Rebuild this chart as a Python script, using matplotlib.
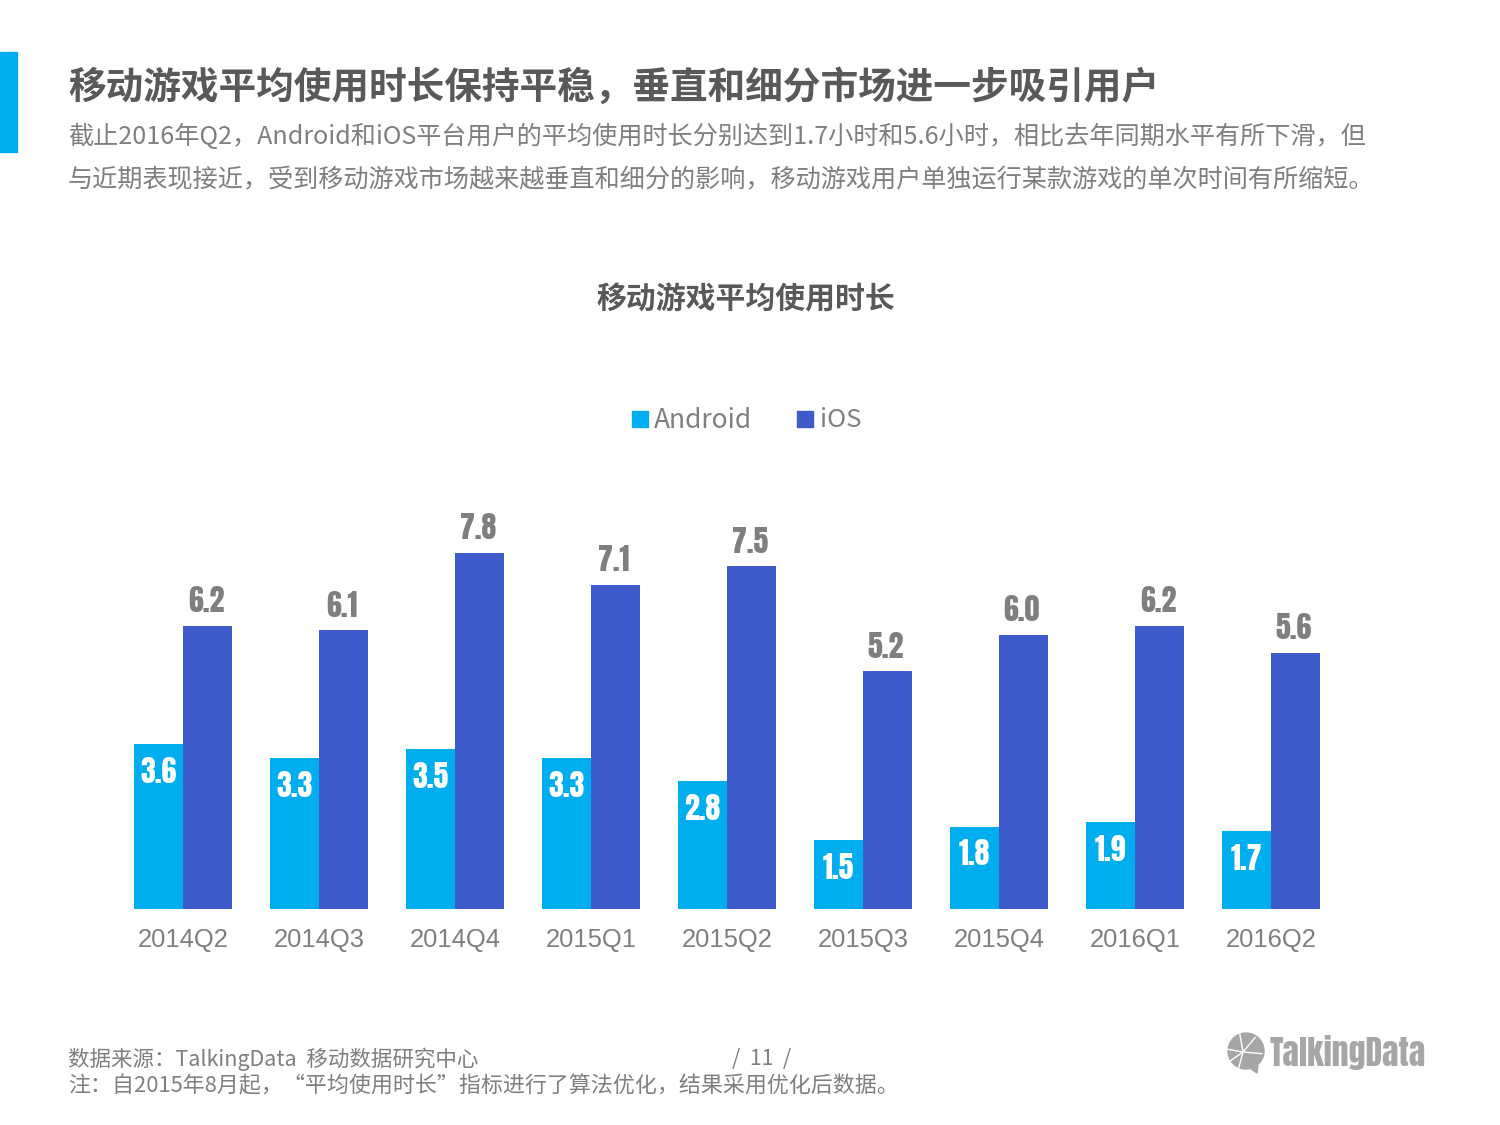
import matplotlib
matplotlib.use("Agg")
import matplotlib.pyplot as plt
from matplotlib.patches import Rectangle, Ellipse, Polygon
from matplotlib.lines import Line2D
import numpy as np

quarters = ["2014Q2", "2014Q3", "2014Q4", "2015Q1", "2015Q2", "2015Q3", "2015Q4", "2016Q1", "2016Q2"]
android = [3.6, 3.3, 3.5, 3.3, 2.8, 1.5, 1.8, 1.9, 1.7]
ios = [6.2, 6.1, 7.8, 7.1, 7.5, 5.2, 6.0, 6.2, 5.6]

title = "移动游戏平均使用时长保持平稳，垂直和细分市场进一步吸引用户"
subtitle1 = "截止2016年Q2，Android和iOS平台用户的平均使用时长分别达到1.7小时和5.6小时，相比去年同期水平有所下滑，但"
subtitle2 = "与近期表现接近，受到移动游戏市场越来越垂直和细分的影响，移动游戏用户单独运行某款游戏的单次时间有所缩短。"
chart_title = "移动游戏平均使用时长"
source = "数据来源：TalkingData  移动数据研究中心"
note = "注：自2015年8月起，“平均使用时长”指标进行了算法优化，结果采用优化后数据。"

W, H = 1500, 1125
cjk = ["Noto Sans CJK SC", "DejaVu Sans"]
narrow = ["Anton", "Liberation Sans", "DejaVu Sans"]
cyan = "#00AEEF"
blue = "#3E5ACB"
plt.rcParams["font.family"] = cjk


def fx(x):
    return x / W


def fy(y):
    return 1 - y / H


fig = plt.figure(figsize=(15, 11.25), dpi=100, facecolor="white")

# plot area, 9 groups 136 px apart, baseline at y=909
ax = fig.add_axes([fx(115), fy(909), 1224 / W, 411.3 / H])
x = np.arange(len(quarters))
w = 0.357
bars_a = ax.bar(x - w / 2, android, w, color=cyan)
bars_i = ax.bar(x + w / 2, ios, w, color=blue)
ax.set_xlim(-0.5, 8.5)
ax.set_ylim(0, 9)
ax.set_yticks([])
ax.set_xticks(x)
ax.set_xticklabels(quarters, family=["Liberation Sans"], fontsize=18.4, color="#7F7F7F")
ax.tick_params(axis="x", length=0, pad=14)
for s in ax.spines.values():
    s.set_visible(False)

for b, v in zip(bars_a, android):
    ax.annotate("%.1f" % v, (b.get_x() + b.get_width() / 2, v), xytext=(0, -9), textcoords="offset points",
                ha="center", va="top", color="white", fontsize=21.5, family=narrow)
for b, v in zip(bars_i, ios):
    ax.annotate("%.1f" % v, (b.get_x() + b.get_width() / 2, v), xytext=(-1, 7), textcoords="offset points",
                ha="center", va="bottom", color="#7F7F7F", fontsize=21.5, family=narrow)

# header
fig.add_artist(Rectangle((0, fy(152)), 17 / W, 100 / H, color=cyan, transform=fig.transFigure))
fig.text(fx(68), fy(87), title, fontsize=27.1, fontweight="bold", color="#595959", va="center")
fig.text(fx(68), fy(137), subtitle1, fontsize=18.1, color="#7F7F7F", va="center")
fig.text(fx(68), fy(180), subtitle2, fontsize=18.1, color="#7F7F7F", va="center")
fig.text(fx(746), fy(299), chart_title, fontsize=21.5, fontweight="bold", color="#595959", ha="center", va="center")

# legend
fig.add_artist(Rectangle((fx(632), fy(427)), 16 / W, 16 / H, color=cyan, transform=fig.transFigure))
fig.text(fx(654), fy(420), "Android", fontsize=19, color="#7F7F7F", va="center")
fig.add_artist(Rectangle((fx(797), fy(427)), 16 / W, 16 / H, color=blue, transform=fig.transFigure))
fig.text(fx(820), fy(420), "iOS", fontsize=18.5, color="#7F7F7F", va="center")

# footer
fig.text(fx(68), fy(1059), source, fontsize=15.5, color="#7F7F7F", va="center")
fig.text(fx(68), fy(1086), note, fontsize=15.8, color="#7F7F7F", va="center")
fig.text(fx(762), fy(1059), "/  11  /", fontsize=15.3, color="#7F7F7F", ha="center", va="center")

# logo
logo = "#A6A6A8"
cx, cy, r = 1246, 1051, 18
fig.add_artist(Ellipse((fx(cx), fy(cy)), 2 * r / W, 2 * r / H, color=logo, transform=fig.transFigure))
fig.add_artist(Polygon([(fx(1247), fy(1066)), (fx(1258), fy(1066)), (fx(1257), fy(1073))], color=logo,
                       transform=fig.transFigure))
for ang in [50, 100, 170, 215, 255, 355]:
    dx = np.cos(np.radians(ang)) * (r + 1)
    dy = np.sin(np.radians(ang)) * (r + 1)
    fig.add_artist(Line2D([fx(cx - 3), fx(cx - 3 + dx)], [fy(cy + 1), fy(cy + 1 - dy)], color="white", lw=1,
                          transform=fig.transFigure))
fig.text(fx(1270), fy(1052), "TalkingData", fontsize=24.3, color=logo, va="center", family=narrow)

fig.savefig("out.png", dpi=100)
